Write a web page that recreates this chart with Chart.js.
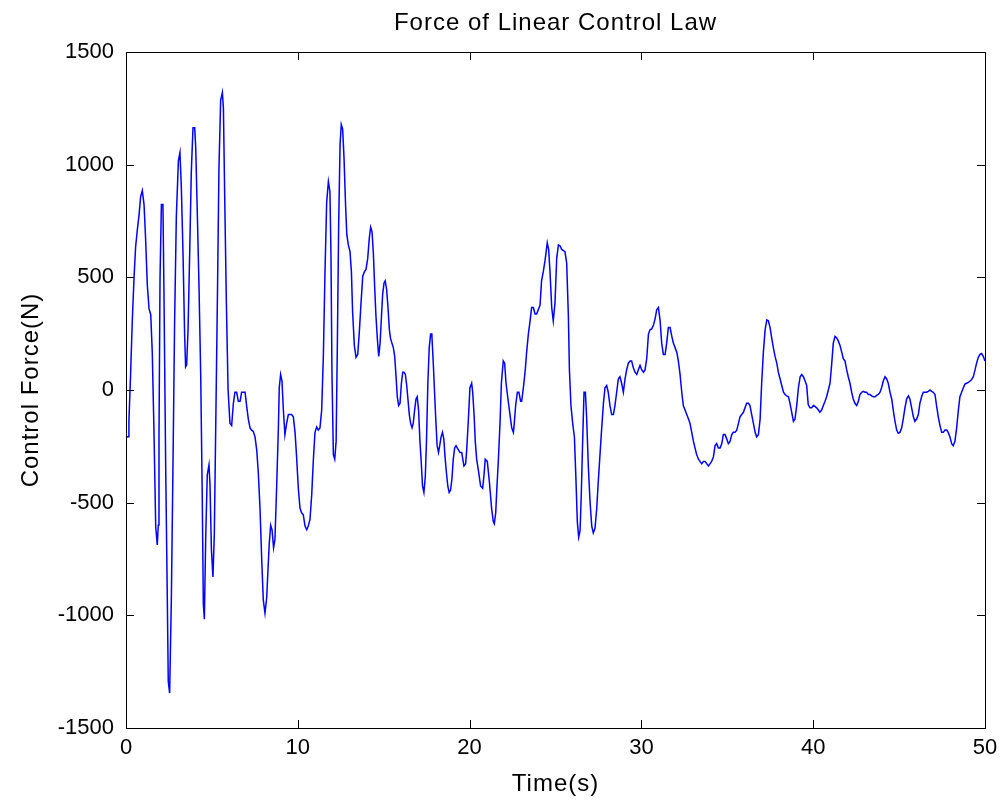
<!DOCTYPE html>
<html>
<head>
<meta charset="utf-8">
<script src="https://cdn.jsdelivr.net/npm/chart.js@4"></script>
<style>
html,body{margin:0;padding:0;background:#fff;}
#wrap{width:1005px;height:804px;}
</style>
</head>
<body>
<div id="wrap"><canvas id="c" width="1005" height="804"></canvas></div>
<script>
const chartTitle = "Force of Linear Control Law";
const xAxisTitle = "Time(s)";
const yAxisTitle = "Control Force(N)";
const xTicks = [0, 10, 20, 30, 40, 50];
const yTicks = [-1500, -1000, -500, 0, 500, 1000, 1500];

const timeSeconds = [
0.00,0.12,0.17,0.27,0.37,0.47,0.56,0.66,0.76,0.85,0.95,1.05,1.14,1.24,1.34,1.44,1.53,1.63,1.73,1.82,1.88,1.92,1.98,2.06,2.15,2.21,2.31,2.41,2.46,2.54,2.64,2.74,2.83,2.93,3.05,3.14,3.22,3.32,3.41,3.47,3.53,3.61,3.71,3.80,3.90,4.00,4.06,4.15,4.25,4.35,4.44,4.50,4.56,4.64,4.73,4.83,4.89,4.97,5.06,5.14,5.22,5.32,5.41,5.51,5.61,5.67,5.74,5.84,5.94,
6.05,6.15,6.25,6.34,6.44,6.54,6.64,6.73,6.83,6.93,7.02,7.12,7.22,7.31,7.41,7.51,7.61,7.70,7.80,7.90,7.99,8.09,8.19,8.28,8.34,8.42,8.50,8.59,8.67,8.77,8.87,8.92,9.00,9.08,9.16,9.25,9.35,9.45,9.55,
9.64,9.74,9.84,9.93,10.03,10.13,10.22,10.32,10.42,10.52,10.61,10.71,10.81,10.90,11.00,11.10,11.19,11.29,11.39,11.49,11.58,11.68,11.78,11.87,11.93,11.99,12.07,12.15,12.23,12.30,12.38,12.46,12.53,12.61,12.69,12.78,12.85,12.94,13.04,13.12,13.19,13.29,13.39,13.49,13.58,13.68,13.78,13.88,13.97,14.07,14.16,14.24,14.32,14.40,14.48,14.55,14.63,14.71,14.79,14.87,14.94,15.02,15.09,15.17,15.25,15.33,15.40,15.48,15.56,15.64,15.72,15.79,15.87,15.95,16.03,16.11,16.18,16.26,16.34,16.41,16.49,16.57,16.65,16.72,16.80,16.88,16.95,17.03,17.11,17.19,17.26,17.34,17.42,17.49,17.57,17.65,17.73,17.80,17.88,17.96,18.03,18.11,18.19,18.26,18.34,18.42,18.50,18.57,18.65,18.73,18.81,18.89,18.97,19.05,19.13,19.21,19.28,19.36,19.44,
19.54,19.67,19.77,19.83,19.93,20.02,20.12,20.18,20.26,20.33,20.41,20.51,20.64,20.76,20.84,20.91,21.03,21.15,21.28,21.38,21.44,21.52,21.58,21.67,21.77,21.85,21.96,22.04,22.12,22.25,22.35,22.45,22.55,22.60,22.68,22.78,22.87,22.97,23.03,23.13,23.24,23.32,23.42,23.52,23.61,23.71,23.81,23.90,24.10,24.19,24.29,24.39,24.52,24.60,24.68,24.78,24.87,24.97,25.07,25.17,25.26,25.36,25.55,25.65,25.75,25.81,25.90,26.00,26.10,26.19,26.27,26.35,26.43,26.50,26.58,26.66,26.74,26.81,26.91,27.01,27.11,27.20,27.30,27.40,27.49,27.59,27.69,27.79,27.88,27.98,28.07,28.17,28.27,28.37,28.46,28.56,28.66,28.75,28.85,28.95,29.05,29.14,29.24,29.34,
29.43,29.53,29.63,29.73,29.82,29.92,30.02,30.12,30.21,30.31,30.41,30.50,30.60,30.70,30.80,30.89,30.99,31.09,31.18,31.28,31.38,31.47,31.57,31.67,31.77,31.86,31.96,32.06,32.15,32.25,32.35,32.44,32.54,32.64,32.74,32.83,32.93,33.03,33.12,33.22,33.32,33.41,33.51,33.61,33.71,33.80,33.90,34.00,34.09,34.19,34.29,34.38,34.48,34.58,34.68,34.77,34.87,34.97,35.06,35.16,35.26,35.35,35.45,35.55,35.65,35.74,35.84,35.94,36.03,36.13,36.23,36.32,36.42,36.52,36.62,36.71,36.81,36.91,37.00,37.10,37.20,37.30,37.39,37.49,37.59,37.68,37.78,37.88,37.97,38.07,38.17,38.27,38.36,38.46,38.56,38.65,38.75,38.85,38.94,39.04,39.14,39.24,39.33,39.43,39.53,
39.62,39.71,39.81,39.91,40.01,40.10,40.20,40.30,40.39,40.49,40.59,40.69,40.78,40.88,40.98,41.07,41.17,41.27,41.36,41.46,41.56,41.66,41.75,41.85,41.95,42.04,42.14,42.24,42.33,42.43,42.53,42.63,42.72,42.82,42.92,43.01,43.11,43.21,43.30,43.40,43.50,43.60,43.69,43.79,43.89,43.98,44.08,44.18,44.27,44.37,44.47,44.57,44.66,44.76,44.86,44.95,45.05,45.15,45.24,45.34,45.44,45.54,45.63,45.73,45.83,45.92,46.02,46.12,46.21,46.31,46.41,46.51,46.60,46.70,46.80,46.89,46.99,47.09,47.18,47.28,47.38,47.48,47.57,47.67,47.77,47.86,47.96,48.06,48.15,48.25,48.35,48.45,48.54,48.64,48.74,48.83,48.93,49.03,49.13,49.22,49.32,49.42,49.51,49.61,49.71,49.80,49.90,50.00
];

const controlForce = [
-210,-208,-137,76,316,503,636,711,777,857,885,823,672,467,361,334,165,-190,-608,-688,-599,-208,494,823,823,432,-341,-963,-1292,-1345,-928,-297,307,770,1018,1054,903,601,254,103,112,263,619,965,1164,1164,1072,787,459,59,-483,-946,-1017,-652,-377,-332,-421,-706,-830,-643,-181,405,983,1285,1320,1250,885,396,5,
-148,-158,-59,-10,-10,-50,-50,-10,-10,-10,-69,-129,-168,-178,-184,-208,-267,-366,-525,-752,-931,-990,-921,-772,-680,-600,-620,-700,-663,-426,-168,10,69,40,-89,-198,-148,-109,-109,
-109,-119,-188,-297,-436,-525,-545,-554,-604,-620,-604,-574,-465,-317,-188,-164,-178,-168,-89,158,515,832,925,881,604,69,-287,-307,-228,188,743,1089,1178,1158,1030,822,693,644,614,525,347,198,145,158,257,386,505,525,535,584,673,723,703,604,446,327,228,149,208,327,426,475,485,446,366,267,228,208,188,149,59,-30,-69,-59,30,79,79,69,20,-40,-109,-148,-168,-148,-89,-40,-30,-89,-228,-327,-426,-455,-386,-228,30,188,248,248,129,-10,-129,-247,-277,-247,-208,-188,-218,-297,-366,-426,-455,-445,-396,-307,-257,-247,-257,-267,-277,
-277,-337,-327,-267,-129,10,30,-10,-109,-228,-307,-356,-426,-436,-376,-307,-317,-406,-525,-584,-594,-545,-446,-317,-149,30,129,119,30,-50,-109,-168,-188,-148,-69,-10,-10,-50,-50,10,89,168,248,307,366,366,337,337,376,485,525,574,653,624,525,366,307,386,584,644,640,624,614,564,327,89,-69,-148,-208,-396,-584,-653,-624,-465,-228,-10,-10,-119,-337,-495,-604,-634,-614,-525,-406,-287,-168,-59,10,20,-10,-69,-109,-109,-69,-10,50,59,30,-10,50,89,119,129,
129,99,79,69,89,109,89,79,89,139,248,267,271,287,317,356,366,307,208,158,158,208,277,277,238,208,188,168,129,69,-10,-69,-89,-109,-129,-148,-188,-228,-257,-287,-307,-317,-327,-317,-317,-327,-337,-327,-317,-297,-247,-238,-257,-257,-238,-198,-198,-218,-238,-228,-198,-188,-188,-178,-148,-119,-109,-99,-79,-59,-59,-69,-109,-148,-188,-208,-198,-129,30,168,267,311,307,277,228,188,149,119,79,50,20,-10,-20,-26,-30,-59,-99,-139,-129,-69,10,59,69,59,40,
20,-65,-79,-79,-69,-73,-79,-89,-99,-89,-69,-50,-30,0,30,109,208,238,232,218,198,168,139,129,89,59,30,-10,-40,-59,-69,-50,-20,-10,-6,-10,-10,-20,-20,-26,-30,-30,-24,-20,-10,10,40,59,50,30,-10,-40,-89,-139,-178,-192,-188,-168,-129,-79,-40,-26,-40,-79,-119,-139,-129,-109,-59,-30,-10,-10,-10,-6,0,-6,-10,-20,-69,-119,-158,-188,-188,-178,-178,-188,-208,-238,-247,-228,-168,-89,-30,-10,10,26,30,34,40,46,59,89,119,145,158,162,149,129
];

const FONT = "'Liberation Sans', Arial, Helvetica, sans-serif";
const points = timeSeconds.map((t, i) => ({x: t, y: controlForce[i]}));

const framePlugin = {
  id: 'matlabFrame',
  afterDraw(chart) {
    const {ctx, chartArea: a, scales} = chart;
    ctx.save();
    ctx.strokeStyle = '#000';
    ctx.lineWidth = 1;
    ctx.strokeRect(Math.round(a.left) + 0.5, Math.round(a.top) + 0.5, Math.round(a.right - a.left), Math.round(a.bottom - a.top));
    const L = 8;
    ctx.beginPath();
    xTicks.forEach(v => {
      const px = Math.round(scales.x.getPixelForValue(v)) + 0.5;
      ctx.moveTo(px, a.bottom); ctx.lineTo(px, a.bottom - L);
      ctx.moveTo(px, a.top); ctx.lineTo(px, a.top + L);
    });
    yTicks.forEach(v => {
      const py = Math.round(scales.y.getPixelForValue(v)) + 0.5;
      ctx.moveTo(a.left, py); ctx.lineTo(a.left + L, py);
      ctx.moveTo(a.right, py); ctx.lineTo(a.right - L, py);
    });
    ctx.stroke();
    ctx.fillStyle = '#000';
    ctx.font = '24px ' + FONT;
    try { ctx.letterSpacing = '1px'; } catch (e) {}
    ctx.textAlign = 'center';
    ctx.textBaseline = 'middle';
    ctx.fillText(chartTitle, (a.left + a.right) / 2, 23);
    ctx.fillText(xAxisTitle, (a.left + a.right) / 2, 784);
    ctx.translate(31, (a.top + a.bottom) / 2);
    ctx.rotate(-Math.PI / 2);
    ctx.fillText(yAxisTitle, 0, 0);
    ctx.restore();
  }
};

new Chart(document.getElementById('c'), {
  type: 'line',
  data: {
    datasets: [{
      data: points,
      borderColor: '#0000FF',
      borderWidth: 1.5,
      pointRadius: 0,
      tension: 0,
      fill: false
    }]
  },
  options: {
    responsive: false,
    animation: false,
    layout: {padding: {top: 52, right: 20, left: 0, bottom: 0}},
    plugins: {legend: {display: false}, title: {display: false}, tooltip: {enabled: false}},
    scales: {
      x: {
        type: 'linear', min: 0, max: 50,
        afterBuildTicks: s => { s.ticks = xTicks.map(v => ({value: v})); },
        afterFit: s => { s.height = 76; },
        grid: {display: false, drawTicks: false},
        border: {display: false},
        ticks: {color: '#000', font: {family: FONT, size: 22}, padding: 7, maxRotation: 0, callback: v => String(v)}
      },
      y: {
        type: 'linear', min: -1500, max: 1500,
        afterBuildTicks: s => { s.ticks = yTicks.map(v => ({value: v})); },
        afterFit: s => { s.width = 126; },
        grid: {display: false, drawTicks: false},
        border: {display: false},
        ticks: {color: '#000', font: {family: FONT, size: 22}, padding: 12, callback: v => String(v)}
      }
    }
  },
  plugins: [framePlugin]
});
</script>
</body>
</html>
